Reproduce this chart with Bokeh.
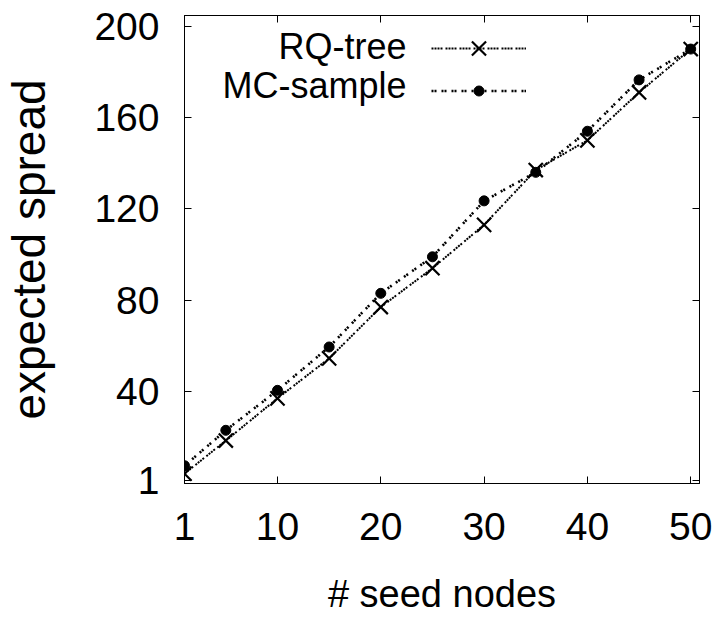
from bokeh.plotting import figure
from bokeh.models import (ColumnDataSource, Range1d, FixedTicker, LinearAxis,
                          Legend, LegendItem, Label)
from bokeh.embed import file_html
from bokeh.resources import INLINE

# ---- data ----
seed_nodes = [1, 5, 10, 15, 20, 25, 30, 35, 40, 45, 50]
rq_tree = [4, 18.5, 37, 54.5, 77, 94, 113, 137, 150, 171, 190]
mc_sample = [7.5, 23, 40.5, 59.5, 83, 99, 123.5, 136, 154, 176.5, 190]
x_ticks = [1, 10, 20, 30, 40, 50]
y_ticks = [1, 40, 80, 120, 160, 200]
series_names = ["RQ-tree", "MC-sample"]

FONT = "Liberation Sans"

src = ColumnDataSource(dict(x=seed_nodes, rq=rq_tree, mc=mc_sample))

p = figure(frame_width=515, frame_height=468, output_backend="svg",
           toolbar_location=None,
           x_range=Range1d(1, 50.85), y_range=Range1d(-0.3, 204.7),
           min_border_left=0, min_border_right=19, min_border_top=15,
           min_border_bottom=0)
p.background_fill_color = "white"
p.border_fill_color = "white"
p.outline_line_color = "black"
p.outline_line_width = 1
p.xgrid.visible = False
p.ygrid.visible = False

def style_axis(ax, ticks, show_labels):
    ax.ticker = FixedTicker(ticks=ticks)
    ax.minor_tick_line_color = None
    ax.major_tick_in = 7
    ax.major_tick_out = 0
    ax.major_tick_line_color = "black"
    ax.axis_line_color = "black"
    ax.axis_line_width = 1
    if show_labels:
        ax.major_label_text_font = FONT
        ax.major_label_text_font_size = "39px"
        ax.major_label_text_color = "black"
    else:
        ax.major_label_text_font_size = "1px"
        ax.major_label_text_alpha = 0
        ax.major_label_standoff = 0

style_axis(p.xaxis[0], x_ticks, True)
style_axis(p.yaxis[0], y_ticks, True)
p.xaxis[0].major_label_standoff = 29
p.yaxis[0].major_label_standoff = 25

p.xaxis[0].axis_label = "# seed nodes"
p.xaxis[0].axis_label_text_font = FONT
p.xaxis[0].axis_label_text_font_size = "38px"
p.xaxis[0].axis_label_text_font_style = "normal"
p.xaxis[0].axis_label_text_color = "black"
p.xaxis[0].axis_label_standoff = 30

p.yaxis[0].axis_label = "expected spread"
p.yaxis[0].axis_label_text_font = FONT
p.yaxis[0].axis_label_text_font_size = "46px"
p.yaxis[0].axis_label_text_font_style = "normal"
p.yaxis[0].axis_label_text_color = "black"
p.yaxis[0].axis_label_standoff = 36

top_ax = LinearAxis()
style_axis(top_ax, x_ticks, False)
p.add_layout(top_ax, "above")
right_ax = LinearAxis()
style_axis(right_ax, y_ticks, False)
p.add_layout(right_ax, "right")

# ---- series ----
l_rq = p.line("x", "rq", source=src, line_color="black", line_width=2,
              line_dash="2 1 2 1 2 1 2 3")
m_rq = p.scatter("x", "rq", source=src, marker="x", size=20,
                 line_color="black", line_width=2.2)
l_mc = p.line("x", "mc", source=src, line_color="black", line_width=2.6,
              line_dash="2 1 2 5")
m_mc = p.scatter("x", "mc", source=src, marker="circle", size=10,
                 fill_color="black", line_color="black", line_width=1)

# legend: samples drawn by Bokeh, names as right-aligned labels (gnuplot style)
common = dict(orientation="vertical", glyph_width=95, label_width=0,
              label_height=1, label_standoff=0, label_text_font_size="1px",
              padding=0, spacing=0, margin=0,
              border_line_color=None, background_fill_alpha=0)
leg_rq = Legend(items=[LegendItem(label=" ", renderers=[l_rq, m_rq])],
                location=(247, 410), glyph_height=50, **common)
leg_mc = Legend(items=[LegendItem(label=" ", renderers=[l_mc, m_mc])],
                location=(247, 380), glyph_height=25, **common)
p.add_layout(leg_rq, "center")
p.add_layout(leg_mc, "center")

for name, ypos in zip(series_names, [437, 398]):
    p.add_layout(Label(x=222, y=ypos, x_units="screen", y_units="screen",
                       text=name, text_align="right", text_baseline="middle",
                       text_font=FONT, text_font_size="36px",
                       text_color="black"))

open("out.html", "w").write(file_html(p, INLINE))
